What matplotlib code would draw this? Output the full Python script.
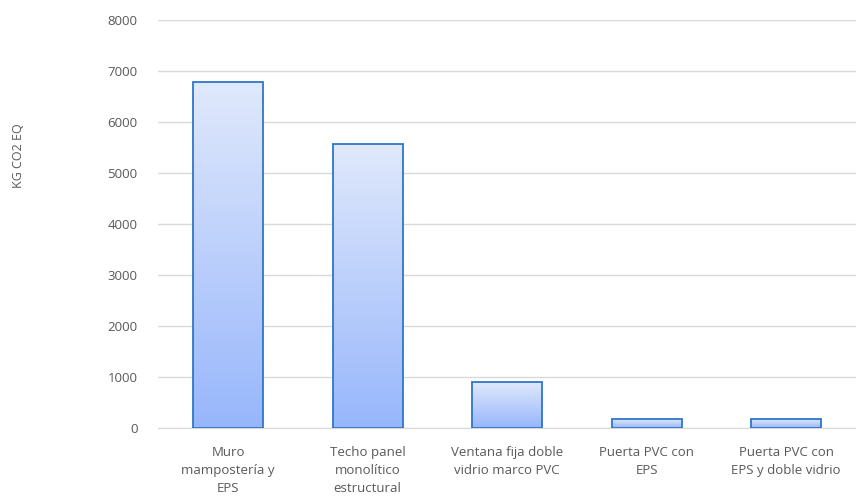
import numpy as np
import matplotlib.pyplot as plt
from matplotlib.colors import LinearSegmentedColormap

plt.rcParams['font.family'] = ['Open Sans', 'DejaVu Sans']

# Data
categories = ['Muro\nmampostería y\nEPS',
              'Techo panel\nmonolítico\nestructural',
              'Ventana fija doble\nvidrio marco PVC',
              'Puerta PVC con\nEPS',
              'Puerta PVC con\nEPS y doble vidrio']
values = [6780, 5565, 900, 170, 170]
y_ticks = [0, 1000, 2000, 3000, 4000, 5000, 6000, 7000, 8000]

text_col = '#595959'
grad = LinearSegmentedColormap.from_list('bar_grad', ['#97b6fb', '#e0e9fc'])

fig = plt.figure(figsize=(8.56, 5.03), dpi=100)
ax = fig.add_axes([0.185, 0.149, 0.815, 0.811])

x = np.arange(len(values))
bars = ax.bar(x, values, width=0.5, color='none', edgecolor='#2f76c8',
              linewidth=1.3, zorder=3)

# gradient fill clipped to each bar
g = np.linspace(0, 1, 256).reshape(-1, 1)
for b in bars:
    x0, y0 = b.get_x(), b.get_y()
    w, h = b.get_width(), b.get_height()
    im = ax.imshow(g, cmap=grad, origin='lower', aspect='auto',
                   extent=[x0, x0 + w, y0, y0 + h], zorder=2)
    im.set_clip_path(b)

ax.set_xlim(-0.5, len(values) - 0.5)
ax.set_ylim(0, 8000)
ax.set_yticks(y_ticks)
ax.set_yticklabels([str(t) for t in y_ticks])
ax.set_xticks(x)
ax.set_xticklabels(categories, linespacing=1.5)

ax.grid(axis='y', color='#d9d9d9', linewidth=1, zorder=0)
ax.set_axisbelow(True)
for s in ['top', 'right', 'left']:
    ax.spines[s].set_visible(False)
ax.spines['bottom'].set_color('#d9d9d9')
ax.tick_params(axis='both', length=0, colors=text_col, labelsize=9.5)
ax.tick_params(axis='y', pad=15)
ax.tick_params(axis='x', pad=13)

fig.text(0.022, 0.69, 'KG CO2 EQ', rotation=90, ha='center', va='center',
         color=text_col, fontsize=9)

fig.savefig('out.png', dpi=100)
